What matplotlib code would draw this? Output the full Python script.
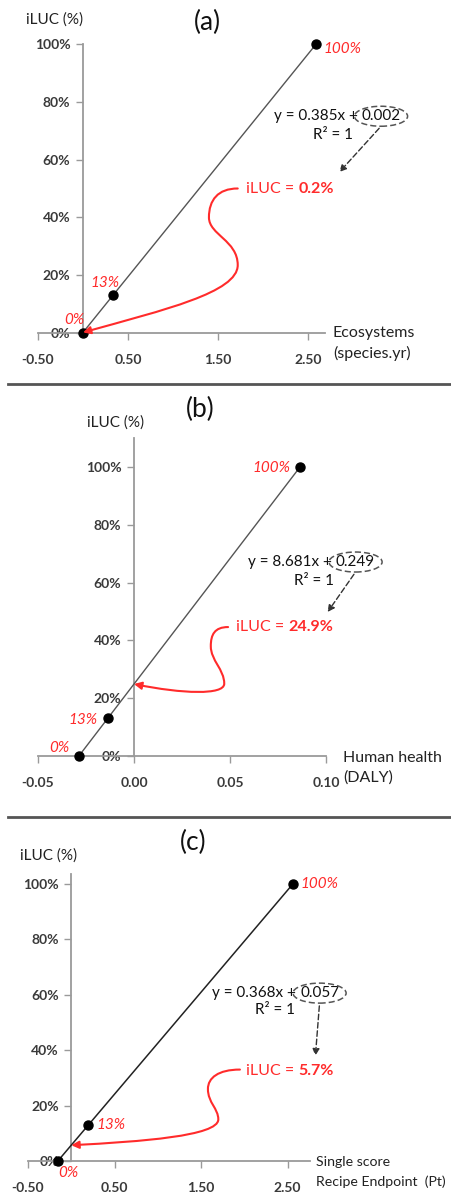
import matplotlib
matplotlib.use("Agg")
import matplotlib.pyplot as plt
from matplotlib.path import Path
from matplotlib.patches import FancyArrowPatch, Ellipse
from matplotlib.ticker import PercentFormatter, FormatStrFormatter, FixedLocator
from matplotlib.lines import Line2D
from matplotlib.transforms import IdentityTransform

plt.rcParams["font.family"] = ["Lato", "DejaVu Sans"]

W, H = 451, 1192
DPI = 100

# ---- data -------------------------------------------------------------
iluc_levels = [0.0, 0.13, 1.0]
iluc_labels = ["0%", "13%", "100%"]

eco_x = [-0.005, 0.332, 2.592]          # Ecosystems (species.yr)
eco_slope, eco_intercept = 0.385, 0.002

hh_x = [-0.0287, -0.0137, 0.0865]       # Human health (DALY)
hh_slope, hh_intercept = 8.681, 0.249

ss_x = [-0.155, 0.198, 2.562]           # Single score, Recipe Endpoint (Pt)
ss_slope, ss_intercept = 0.368, 0.057

eco_xticks = [-0.5, 0.5, 1.5, 2.5]
hh_xticks = [-0.05, 0.0, 0.05, 0.10]
ss_xticks = [-0.5, 0.5, 1.5, 2.5]
y_ticks = [0.0, 0.2, 0.4, 0.6, 0.8, 1.0]

RED = "#ff2b2b"
AXIS_GRAY = "#9a9a9a"
TICK_TXT = "#3a3a3a"

fig = plt.figure(figsize=(W / DPI, H / DPI), dpi=DPI)


def fx(px):
    return px / W


def fy(py):
    return 1 - py / H


def px_axes(x0, x1, y0, y1):
    """Axes box given in pixel coordinates (y measured from the top)."""
    return fig.add_axes([fx(x0), fy(y0), fx(x1) - fx(x0), (y0 - y1) / H])


panels = [
    dict(tag="(a)", xs=eco_x, slope=eco_slope, icpt=eco_intercept,
         box=(38, 325, 333, 44), xlim=(-0.5, 2.69), ylim=(0, 1.0),
         xticks=eco_xticks, xfmt="%.2f",
         title_xy=(207, 22), ylab_xy=(26, 20),
         xlab=("Ecosystems", "(species.yr)"), xlab_xy=(333, 333, 353),
         xlab_size=11.5,
         line_color="#555555", line_w=1.0,
         lab_offsets=[("right", 2, 13), ("right", 7, 12), ("left", 7, -5)],
         eq_xy=(2.12, 0.75), r2_xy=(2.78, 0.685),
         res_xy=(1.81, 0.498),
         curve=[(1.72, 0.50), (1.50, 0.50), (1.40, 0.46), (1.40, 0.40),
                (1.40, 0.34), (1.72, 0.32), (1.72, 0.235),
                (1.72, 0.14), (0.9, 0.08)],
         dash_end=(2.83, 0.55)),
    dict(tag="(b)", xs=hh_x, slope=hh_slope, icpt=hh_intercept,
         box=(38, 326, 756, 438), xlim=(-0.05, 0.10), ylim=(0, 1.1),
         xticks=hh_xticks, xfmt="%.2f",
         title_xy=(200, 409), ylab_xy=(87, 423),
         xlab=("Human health", "(DALY)"), xlab_xy=(343, 758, 778),
         xlab_size=11.5,
         line_color="#555555", line_w=1.0,
         lab_offsets=[("right", -9, 8), ("right", -10, -2), ("right", -10, -1)],
         eq_xy=(0.0595, 0.671), r2_xy=(0.0935, 0.606),
         res_xy=(0.053, 0.446),
         curve=[(0.049, 0.446), (0.042, 0.446), (0.040, 0.42), (0.040, 0.38),
                (0.040, 0.33), (0.047, 0.30), (0.047, 0.25),
                (0.047, 0.21), (0.025, 0.215)],
         dash_end=(0.100, 0.49)),
    dict(tag="(c)", xs=ss_x, slope=ss_slope, icpt=ss_intercept,
         box=(28, 310, 1161, 874), xlim=(-0.5, 2.76), ylim=(0, 1.036),
         xticks=ss_xticks, xfmt="%.2f",
         title_xy=(193, 842), ylab_xy=(20, 856),
         xlab=("Single score", "Recipe Endpoint  (Pt)"), xlab_xy=(316, 1162, 1182),
         xlab_size=10.2,
         line_color="#222222", line_w=1.1,
         lab_offsets=[("left", 0, -12), ("left", 8, 0), ("left", 8, 0)],
         eq_xy=(1.63, 0.606), r2_xy=(2.36, 0.545),
         res_xy=(2.02, 0.325),
         curve=[(1.95, 0.33), (1.70, 0.33), (1.58, 0.30), (1.58, 0.26),
                (1.58, 0.21), (1.70, 0.19), (1.70, 0.15),
                (1.70, 0.09), (0.8, 0.07)],
         dash_end=(2.82, 0.37)),
]

eq_parts = []

for p in panels:
    ax = px_axes(*p["box"])
    ax.set_xlim(*p["xlim"])
    ax.set_ylim(*p["ylim"])
    ax.patch.set_alpha(0)
    for s in ("top", "right"):
        ax.spines[s].set_visible(False)
    ax.spines["left"].set_position(("data", 0))
    ax.spines["bottom"].set_position(("data", 0))
    for s in ("left", "bottom"):
        ax.spines[s].set_color(AXIS_GRAY)
        ax.spines[s].set_linewidth(1.3)
    ax.xaxis.set_major_locator(FixedLocator(p["xticks"]))
    ax.xaxis.set_major_formatter(FormatStrFormatter(p["xfmt"]))
    ax.yaxis.set_major_locator(FixedLocator(y_ticks))
    ax.yaxis.set_major_formatter(PercentFormatter(1.0, decimals=0))
    ax.tick_params(direction="out", length=5, width=1, color=AXIS_GRAY,
                   labelsize=10, labelcolor=TICK_TXT)
    ax.tick_params(axis="x", pad=10)
    ax.tick_params(axis="y", pad=4)
    for lbl in ax.get_xticklabels() + ax.get_yticklabels():
        lbl.set_fontweight("bold")

    # regression line through the three iLUC levels
    ax.plot(p["xs"], iluc_levels, color=p["line_color"], lw=p["line_w"],
            zorder=3, clip_on=False)
    ax.plot(p["xs"], iluc_levels, "o", color="black", ms=6.5, zorder=4,
            clip_on=False)
    for xv, yv, txt, (ha, dx, dy) in zip(p["xs"], iluc_levels, iluc_labels,
                                          p["lab_offsets"]):
        ax.annotate(txt, (xv, yv), xytext=(dx, dy), textcoords="offset pixels",
                    ha=ha, va="center", color=RED, fontsize=11,
                    style="italic", annotation_clip=False)

    # titles and axis captions
    fig.text(fx(p["title_xy"][0]), fy(p["title_xy"][1]), p["tag"],
             ha="center", va="center", fontsize=19, color="#111111")
    fig.text(fx(p["ylab_xy"][0]), fy(p["ylab_xy"][1]), "iLUC (%)",
             ha="left", va="center", fontsize=11, color="#222222")
    lx, ly1, ly2 = p["xlab_xy"]
    fig.text(fx(lx), fy(ly1), p["xlab"][0], ha="left", va="center",
             fontsize=p["xlab_size"], color="#222222")
    fig.text(fx(lx), fy(ly2), p["xlab"][1], ha="left", va="center",
             fontsize=p["xlab_size"], color="#222222")

    # regression equation
    t1 = ax.text(*p["eq_xy"], f"y = {p['slope']:.3f}x + ", ha="left",
                 va="center", fontsize=11, color="#111111", clip_on=False)
    t2 = ax.annotate(f"{p['icpt']:.3f}", xy=(1, 0), xycoords=t1,
                     ha="left", va="bottom", fontsize=11, color="#111111",
                     annotation_clip=False)
    ax.text(*p["r2_xy"], "R² = 1", ha="center", va="center", fontsize=11,
            color="#111111", clip_on=False)

    # iLUC result label: normal + bold
    r1 = ax.text(*p["res_xy"], "iLUC = ", ha="left", va="center",
                 fontsize=11.5, color=RED, clip_on=False)
    ax.annotate(f"{p['icpt'] * 100:.1f}%", xy=(1, 0), xycoords=r1,
                ha="left", va="bottom", fontsize=11.5, color=RED,
                fontweight="bold", annotation_clip=False)

    # curved red arrow to the intercept on the y axis
    pts = p["curve"] + [(0.0, p["icpt"])]
    codes = [Path.MOVETO] + [Path.CURVE4] * 9
    arrow = FancyArrowPatch(path=Path(pts, codes), arrowstyle="-|>",
                            mutation_scale=11, color=RED, lw=1.5,
                            clip_on=False, zorder=5)
    ax.add_patch(arrow)

    eq_parts.append((ax, t2, p))

# separators between panels
for ypx in (384, 817):
    fig.add_artist(Line2D([fx(8), 1], [fy(ypx), fy(ypx)], color="#555555",
                          lw=2))

# dashed ellipse around the intercept and dashed pointer to the result
fig.canvas.draw()
renderer = fig.canvas.get_renderer()
for ax, t2, p in eq_parts:
    bb = t2.get_window_extent(renderer)
    cx, cy = (bb.x0 + bb.x1) / 2, (bb.y0 + bb.y1) / 2
    ew, eh = bb.width + 14, bb.height + 6
    fig.add_artist(Ellipse((cx, cy), ew, eh, transform=IdentityTransform(),
                           fill=False, ls=(0, (4, 2)), lw=1.1,
                           edgecolor="#555555"))
    ax.annotate("", xy=p["dash_end"], xycoords="data",
                xytext=(cx, cy - eh / 2), textcoords="figure pixels",
                arrowprops=dict(arrowstyle="-|>", ls=(0, (4, 2)), lw=1.0,
                                color="#333333", mutation_scale=10),
                annotation_clip=False)

fig.savefig("out.png", dpi=DPI)
